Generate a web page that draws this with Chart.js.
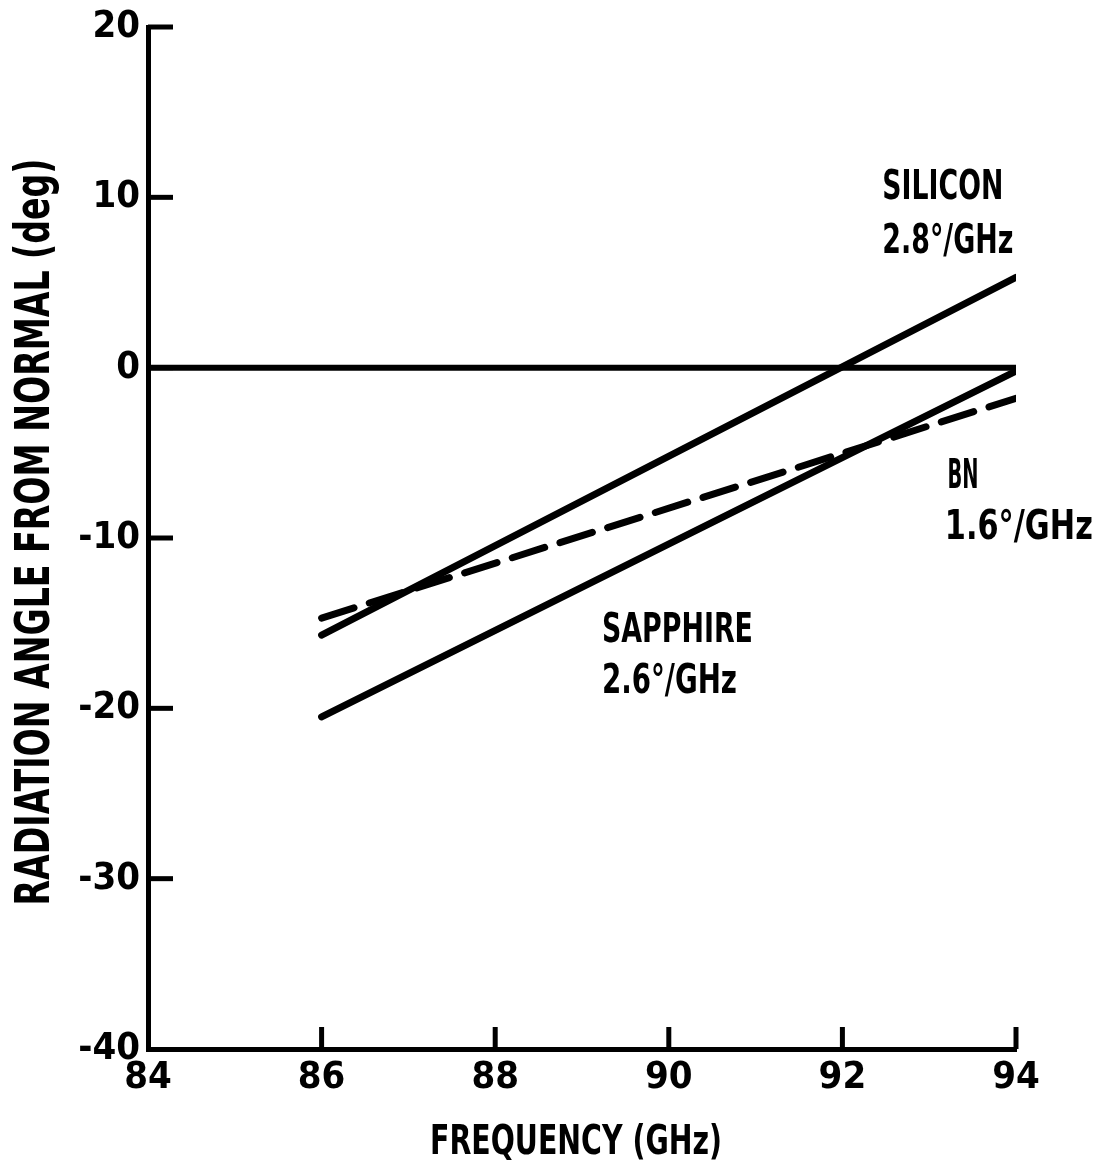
<!DOCTYPE html>
<html><head><meta charset="utf-8">
<script src="https://cdn.jsdelivr.net/npm/chart.js@4.4.0/dist/chart.umd.min.js"></script>
<style>html,body{margin:0;padding:0;background:#fff;}</style>
</head><body>
<canvas id="c" width="1103" height="1162"></canvas>
<script>
// ---- data ----
const frequencyGHz = [86, 94];
const siliconDeg = [-15.7, 5.3];
const sapphireDeg = [-20.5, -0.2];
const bnDeg = [-14.7, -1.8];
const normalFreq = [84, 94];
const normalDeg = [0, 0];
const xTickValues = [84, 86, 88, 90, 92, 94];
const yTickValues = [20, 10, 0, -10, -20, -30, -40];
const noteTexts = ['SILICON', '2.8°/GHz', 'BN', '1.6°/GHz', 'SAPPHIRE', '2.6°/GHz'];
const noteFreq = [92.46, 92.46, 93.21, 93.18, 89.23, 89.23];
const noteDeg = [10.79, 7.63, -6.16, -9.15, -15.25, -18.24];
const xTitle = 'FREQUENCY (GHz)';
const yTitle = 'RADIATION ANGLE FROM NORMAL (deg)';

// ---- styling ----
const FAMILY = "'Liberation Sans Narrow', 'DejaVu Sans Condensed', 'Liberation Sans', sans-serif";
const noteWidths = [121, 131, 31, 148, 151, 135];

function pts(xs, ys) { return xs.map((x, i) => ({x: x, y: ys[i]})); }

function fitText(ctx, text, x, y, capH, width, align, rot) {
  const size = capH / 0.72;
  ctx.save();
  ctx.font = 'bold ' + size + 'px ' + FAMILY;
  const w = ctx.measureText(text).width;
  const sx = width / w;
  ctx.translate(x, y);
  if (rot) ctx.rotate(rot);
  ctx.scale(sx, 1);
  ctx.textAlign = align;
  ctx.textBaseline = 'alphabetic';
  ctx.fillStyle = '#000';
  ctx.fillText(text, 0, capH / 2);
  ctx.restore();
}

const decor = {
  id: 'decor',
  afterDraw(chart) {
    const ctx = chart.ctx;
    const xs = chart.scales.x, ys = chart.scales.y;
    const area = chart.chartArea;
    ctx.save();
    ctx.strokeStyle = '#000';
    ctx.lineWidth = 5;
    ctx.lineCap = 'butt';
    // inward tick marks
    xTickValues.slice(1).forEach(v => {
      const px = xs.getPixelForValue(v);
      ctx.beginPath(); ctx.moveTo(px, area.bottom); ctx.lineTo(px, area.bottom - 22); ctx.stroke();
    });
    yTickValues.slice(0, -1).forEach(v => {
      const py = ys.getPixelForValue(v);
      ctx.beginPath(); ctx.moveTo(area.left, py); ctx.lineTo(area.left + 25, py); ctx.stroke();
    });
    ctx.restore();
    // annotations
    noteTexts.forEach((t, i) => {
      fitText(ctx, t, xs.getPixelForValue(noteFreq[i]), ys.getPixelForValue(noteDeg[i]), 30, noteWidths[i], 'left', 0);
    });
    // axis titles
    fitText(ctx, xTitle, (area.left + area.right) / 2 - 6, 1139, 30, 292, 'center', 0);
    fitText(ctx, yTitle, 32, (area.top + area.bottom) / 2 - 6, 34, 747, 'center', -Math.PI / 2);
  }
};

const tickFont = {family: FAMILY, size: 38, weight: 'bold', lineHeight: 1};

new Chart(document.getElementById('c'), {
  type: 'scatter',
  data: {
    datasets: [
      {label: 'normal', data: pts(normalFreq, normalDeg), showLine: true, borderColor: '#000', borderWidth: 6, pointRadius: 0, borderCapStyle: 'butt'},
      {label: 'Silicon', data: pts(frequencyGHz, siliconDeg), showLine: true, borderColor: '#000', borderWidth: 7, pointRadius: 0, borderCapStyle: 'round'},
      {label: 'Sapphire', data: pts(frequencyGHz, sapphireDeg), showLine: true, borderColor: '#000', borderWidth: 7, pointRadius: 0, borderCapStyle: 'round'},
      {label: 'BN', data: pts(frequencyGHz, bnDeg), showLine: true, borderColor: '#000', borderWidth: 7, pointRadius: 0, borderCapStyle: 'round', borderDash: [34, 16]}
    ]
  },
  options: {
    responsive: false,
    animation: false,
    devicePixelRatio: 1,
    layout: {padding: {top: 26, right: 87, left: 0, bottom: 0}},
    plugins: {legend: {display: false}, tooltip: {enabled: false}},
    elements: {line: {tension: 0}},
    scales: {
      x: {
        type: 'linear', min: 84, max: 94,
        afterBuildTicks: s => { s.ticks = xTickValues.map(v => ({value: v})); },
        afterFit: s => { s.height = 113; },
        grid: {display: false, drawTicks: false},
        border: {display: true, color: '#000', width: 5},
        ticks: {font: tickFont, color: '#000', padding: 10, maxRotation: 0, autoSkip: false}
      },
      y: {
        type: 'linear', min: -40, max: 20,
        afterBuildTicks: s => { s.ticks = yTickValues.map(v => ({value: v})); },
        afterFit: s => { s.width = 148; },
        grid: {display: false, drawTicks: false},
        border: {display: true, color: '#000', width: 5},
        ticks: {font: tickFont, color: '#000', padding: 8, autoSkip: false}
      }
    }
  },
  plugins: [decor]
});
</script>
</body></html>
